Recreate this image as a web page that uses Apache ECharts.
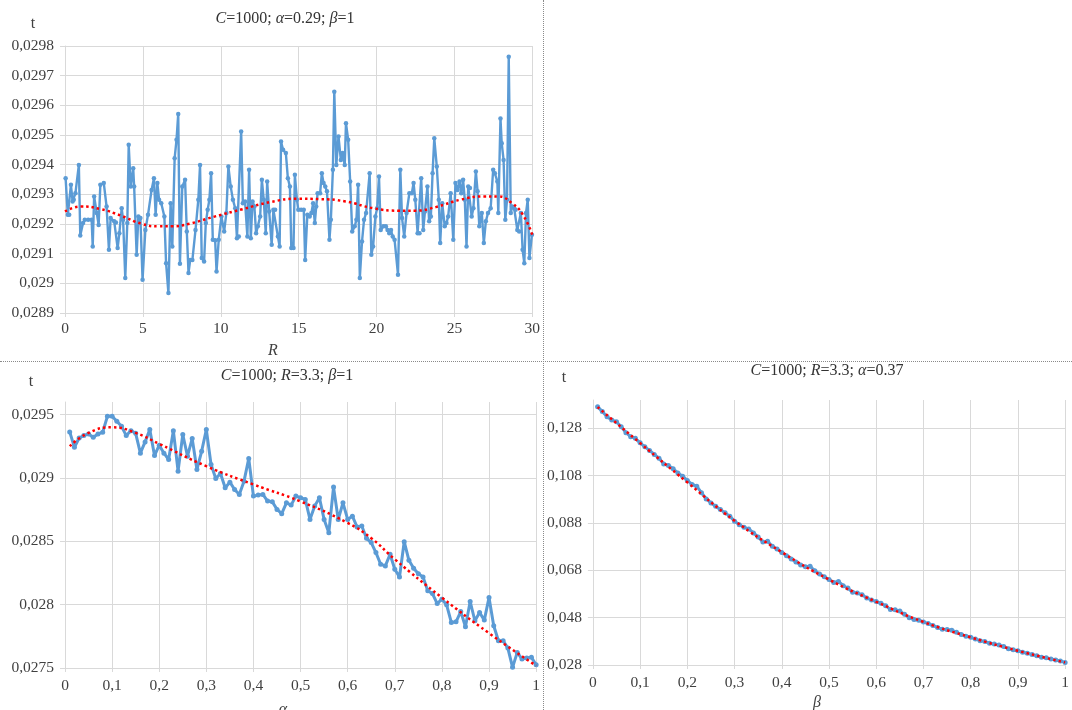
<!DOCTYPE html>
<html><head><meta charset="utf-8">
<script src="https://cdn.jsdelivr.net/npm/echarts@6/dist/echarts.min.js"></script>
<style>
body{margin:0;background:#fff;width:1072px;height:710px;overflow:hidden;position:relative}
.c{position:absolute}
</style></head>
<body>
<div id="a" class="c" style="left:0;top:0;width:543px;height:361px"></div>
<div id="b" class="c" style="left:0;top:362px;width:543px;height:348px"></div>
<div id="cc" class="c" style="left:544px;top:362px;width:528px;height:348px"></div>
<div class="c" style="left:543px;top:0;width:0;height:710px;border-left:1px dotted #8a8a8a"></div>
<div class="c" style="left:0;top:361px;width:1072px;height:0;border-top:1px dotted #8a8a8a"></div>
<script>
// ---- Chart 1: t vs R (C=1000; alpha=0.29; beta=1)
const rX = [0.04,0.18,0.27,0.38,0.49,0.56,0.67,0.89,0.98,1.16,1.27,1.49,1.71,1.78,1.87,2.04,2.16,2.27,2.49,2.67,2.82,2.93,3.16,3.27,3.38,3.49,3.64,3.73,3.87,4.00,4.09,4.22,4.38,4.44,4.60,4.71,4.84,4.98,5.16,5.33,5.56,5.71,5.82,5.93,6.04,6.18,6.38,6.49,6.64,6.78,6.89,7.04,7.16,7.27,7.38,7.53,7.71,7.82,7.93,8.04,8.18,8.38,8.56,8.67,8.78,8.93,9.04,9.16,9.27,9.38,9.49,9.64,9.73,9.87,10.04,10.22,10.36,10.49,10.64,10.78,10.93,11.04,11.16,11.31,11.42,11.56,11.71,11.82,11.93,12.04,12.16,12.27,12.38,12.53,12.64,12.76,12.89,12.98,13.11,13.27,13.38,13.49,13.67,13.78,13.87,14.00,14.18,14.31,14.44,14.53,14.67,14.76,14.89,14.98,15.16,15.33,15.42,15.56,15.71,15.82,15.93,16.04,16.13,16.22,16.38,16.49,16.60,16.71,16.82,16.98,17.07,17.20,17.29,17.42,17.56,17.71,17.82,17.96,18.04,18.18,18.31,18.44,18.60,18.71,18.82,18.93,19.07,19.20,19.33,19.56,19.67,19.78,19.93,20.04,20.16,20.27,20.44,20.60,20.71,20.82,20.93,21.04,21.16,21.38,21.53,21.64,21.78,21.93,22.11,22.27,22.38,22.49,22.64,22.76,22.87,23.00,23.11,23.27,23.38,23.49,23.60,23.71,23.87,24.00,24.09,24.22,24.38,24.49,24.60,24.76,24.93,25.07,25.20,25.33,25.44,25.56,25.67,25.78,25.89,26.00,26.11,26.22,26.38,26.49,26.60,26.76,26.89,27.02,27.16,27.33,27.49,27.60,27.76,27.82,27.96,28.04,28.16,28.27,28.38,28.49,28.62,28.71,28.84,28.93,29.04,29.16,29.27,29.38,29.49,29.60,29.71,29.82,29.98];
const rT = [0.029354,0.029231,0.029231,0.029332,0.029276,0.029282,0.029304,0.029399,0.029161,0.029203,0.029214,0.029214,0.029214,0.029124,0.029293,0.029237,0.029197,0.029332,0.029338,0.029259,0.029113,0.029220,0.029209,0.029205,0.029119,0.029169,0.029253,0.029214,0.029018,0.029203,0.029467,0.029326,0.029388,0.029326,0.029096,0.029225,0.029220,0.029012,0.029180,0.029231,0.029315,0.029354,0.029231,0.029338,0.029282,0.029270,0.029225,0.029068,0.028967,0.029270,0.029124,0.029422,0.029484,0.029571,0.029066,0.029326,0.029349,0.029175,0.029035,0.029079,0.029079,0.029180,0.029282,0.029399,0.029085,0.029074,0.029203,0.029248,0.029282,0.029371,0.029147,0.029145,0.029040,0.029147,0.029225,0.029175,0.029237,0.029394,0.029326,0.029282,0.029253,0.029152,0.029158,0.029512,0.029270,0.029276,0.029158,0.029383,0.029152,0.029276,0.029259,0.029169,0.029192,0.029225,0.029349,0.029282,0.029169,0.029343,0.029242,0.029130,0.029248,0.029248,0.029158,0.029124,0.029478,0.029450,0.029439,0.029354,0.029326,0.029119,0.029119,0.029366,0.029282,0.029248,0.029248,0.029248,0.029079,0.029231,0.029225,0.029237,0.029270,0.029203,0.029259,0.029304,0.029304,0.029371,0.029338,0.029326,0.029310,0.029147,0.029214,0.029383,0.029646,0.029399,0.029495,0.029416,0.029439,0.029399,0.029540,0.029484,0.029343,0.029175,0.029192,0.029214,0.029332,0.029018,0.029141,0.029214,0.029237,0.029371,0.029096,0.029124,0.029225,0.029253,0.029360,0.029180,0.029192,0.029192,0.029180,0.029169,0.029180,0.029158,0.029147,0.029029,0.029383,0.029220,0.029158,0.029237,0.029304,0.029304,0.029338,0.029282,0.029169,0.029169,0.029354,0.029180,0.029242,0.029326,0.029209,0.029225,0.029371,0.029489,0.029394,0.029282,0.029136,0.029270,0.029192,0.029203,0.029225,0.029304,0.029147,0.029338,0.029315,0.029343,0.029304,0.029349,0.029282,0.029124,0.029326,0.029321,0.029225,0.029253,0.029377,0.029310,0.029192,0.029237,0.029136,0.029209,0.029237,0.029253,0.029383,0.029371,0.029343,0.029237,0.029556,0.029472,0.029416,0.029214,0.029282,0.029764,0.029237,0.029259,0.029253,0.029248,0.029180,0.029175,0.029237,0.029113,0.029068,0.029237,0.029282,0.029085,0.029164];
const rTrendX = [0,1,2.3,3.6,4.9,6,6.9,8,9.6,11.4,13.2,14.9,16.3,18,19.8,21.4,22.5,23.8,25.4,26.9,27.8,28.7,29.4,30];
const rTrendT = [0.029242,0.029259,0.029250,0.029228,0.029201,0.029192,0.029192,0.029201,0.029225,0.029250,0.029274,0.029285,0.029284,0.029276,0.029253,0.029245,0.029245,0.029257,0.029282,0.029293,0.029293,0.029270,0.029231,0.029164];

// ---- Chart 2: t vs alpha (C=1000; R=3.3; beta=1)
const aX = [0.01,0.02,0.03,0.04,0.05,0.06,0.07,0.08,0.09,0.10,0.11,0.12,0.13,0.14,0.15,0.16,0.17,0.18,0.19,0.20,0.21,0.22,0.23,0.24,0.25,0.26,0.27,0.28,0.29,0.30,0.31,0.32,0.33,0.34,0.35,0.36,0.37,0.38,0.39,0.40,0.41,0.42,0.43,0.44,0.45,0.46,0.47,0.48,0.49,0.50,0.51,0.52,0.53,0.54,0.55,0.56,0.57,0.58,0.59,0.60,0.61,0.62,0.63,0.64,0.65,0.66,0.67,0.68,0.69,0.70,0.71,0.72,0.73,0.74,0.75,0.76,0.77,0.78,0.79,0.80,0.81,0.82,0.83,0.84,0.85,0.86,0.87,0.88,0.89,0.90,0.91,0.92,0.93,0.94,0.95,0.96,0.97,0.98,0.99,1.00];
const aT = [0.029364,0.029243,0.029316,0.029335,0.029348,0.029322,0.029348,0.029361,0.029487,0.029487,
0.029448,0.029408,0.029335,0.029374,0.029353,0.029196,0.029285,0.029382,0.029177,0.029259,
0.029196,0.029146,0.029374,0.029054,0.029343,0.029172,0.029311,0.029067,0.029211,0.029382,
0.029106,0.028996,0.029035,0.028923,0.028967,0.028909,0.028870,0.028975,0.029154,0.028857,
0.028865,0.028870,0.028818,0.028812,0.028752,0.028718,0.028804,0.028786,0.028857,0.028844,
0.028831,0.028673,0.028778,0.028844,0.028673,0.028568,0.028928,0.028673,0.028804,0.028673,
0.028699,0.028613,0.028621,0.028524,0.028490,0.028411,0.028319,0.028306,0.028398,0.028280,
0.028219,0.028497,0.028350,0.028287,0.028245,0.028219,0.028109,0.028088,0.028009,0.028043,
0.027999,0.027860,0.027865,0.027946,0.027825,0.028025,0.027873,0.027938,0.027878,0.028056,
0.027833,0.027715,0.027715,0.027657,0.027505,0.027623,0.027571,0.027579,0.027584,0.027526];
const aTrendX = [0.01,0.05,0.1,0.15,0.2,0.3,0.4,0.5,0.6,0.65,0.7,0.8,0.9,1.0];
const aTrendT = [0.029251,0.029356,0.029400,0.029356,0.029269,0.029093,0.028949,0.028815,0.028645,0.028525,0.028358,0.028056,0.027775,0.027518];

// ---- Chart 3: t vs beta (C=1000; R=3.3; alpha=0.37)
const bX = aX;
const bT = [0.1372,0.1351,0.1329,0.1315,0.1308,0.1287,0.1262,0.1245,0.1238,0.1219,
0.1202,0.1187,0.1170,0.1154,0.1130,0.1123,0.1109,0.1092,0.1078,0.1060,
0.1043,0.1036,0.1008,0.0982,0.0965,0.0951,0.0937,0.0923,0.0909,0.0888,
0.0873,0.0862,0.0855,0.0838,0.0821,0.0800,0.0803,0.0782,0.0770,0.0756,
0.0742,0.0728,0.0715,0.0703,0.0695,0.0697,0.0678,0.0665,0.0653,0.0641,
0.0629,0.0633,0.0615,0.0605,0.0587,0.0584,0.0577,0.0563,0.0555,0.0548,
0.0541,0.0530,0.0515,0.0513,0.0508,0.0494,0.0480,0.0472,0.0469,0.0462,
0.0455,0.0447,0.0438,0.0431,0.0430,0.0427,0.0418,0.0409,0.0402,0.0397,
0.0390,0.0383,0.0379,0.0372,0.0369,0.0365,0.0358,0.0349,0.0344,0.0340,
0.0334,0.0330,0.0324,0.0319,0.0313,0.0311,0.0305,0.0301,0.0297,0.0291];
const bTrendX = [0.01,0.1,0.2,0.3,0.4,0.5,0.6,0.7,0.8,0.9,1.0];
const bTrendT = [0.1370,0.1218,0.1052,0.0890,0.0757,0.0641,0.0547,0.0462,0.0397,0.0340,0.0291];

const TEXT = '#404040', GRID = '#d9d9d9', BLUE = '#5b9bd5', RED = '#ff0000';
const SERIF = '"Liberation Serif", "Times New Roman", serif';
function fmt(v){ return String(parseFloat(Number(v).toPrecision(6))).replace('.', ','); }
function pairs(xs, ys){ return xs.map((x,i)=>[x, ys[i]]); }

function axisX(min, max, interval, margin){
  return {type:'value', min, max, interval,
    axisLine:{show:true, lineStyle:{color:GRID, width:1}},
    axisTick:{show:true, length:4, lineStyle:{color:GRID}},
    splitLine:{show:true, lineStyle:{color:GRID, width:1}},
    axisLabel:{color:TEXT, fontFamily:SERIF, fontSize:15.5, margin, formatter:fmt, alignMaxLabel:'center', alignMinLabel:'center'}};
}
function axisY(min, max, interval, hideMax){
  return {type:'value', min, max, interval,
    axisLine:{show:true, lineStyle:{color:GRID, width:1}},
    axisTick:{show:true, length:5, lineStyle:{color:GRID}},
    splitLine:{show:true, showMaxLine: !hideMax, lineStyle:{color:GRID, width:1}},
    axisLabel:{color:TEXT, fontFamily:SERIF, fontSize:15.5, margin:11, formatter:fmt, showMaxLabel: !hideMax}};
}
function txt(x, y, text, opts){
  return {type:'text', x, y, silent:true, style:Object.assign({text, fill:TEXT, font:'16px ' + SERIF, textAlign:'center', verticalAlign:'middle'}, opts||{})};
}
function title(x, y, text){
  return txt(x, y, text, {font:'16px ' + SERIF, fill:'#333333',
    rich:{i:{fontStyle:'italic', fontFamily:SERIF, fontSize:16, fill:'#333333'}}});
}
function blue(data, lw, ss){
  return {type:'line', data, showSymbol:true, showAllSymbol:true, symbol:'circle', symbolSize:ss,
    itemStyle:{color:BLUE}, lineStyle:{color:BLUE, width:lw}, z:2, animation:false};
}
function red(data){
  return {type:'line', data, smooth:true, showSymbol:false, symbol:'none',
    lineStyle:{color:RED, width:2.5, type:[2.5,3]}, z:3, animation:false};
}

const cA = echarts.init(document.getElementById('a'), null, {renderer:'canvas'});
cA.setOption({
  animation:false,
  grid:{left:65, right:9, top:46, bottom:48},
  xAxis: axisX(0, 30, 5, 8),
  yAxis: axisY(0.0289, 0.0298, 0.0001, false),
  series:[blue(pairs(rX, rT), 2.4, 4.5), red(pairs(rTrendX, rTrendT))],
  graphic:[
    title(285, 19, '{i|C}=1000; {i|α}=0.29; {i|β}=1'),
    txt(33, 24, 't'),
    txt(273, 351, 'R', {font:'italic 16px ' + SERIF})
  ]
});

const cB = echarts.init(document.getElementById('b'), null, {renderer:'canvas'});
cB.setOption({
  animation:false,
  grid:{left:65, right:6, top:40, bottom:42},
  xAxis: axisX(0, 1, 0.1, 10),
  yAxis: axisY(0.0275, 0.0296, 0.0005, true),
  series:[blue(pairs(aX, aT), 3, 5), red(pairs(aTrendX, aTrendT))],
  graphic:[
    title(287, 14, '{i|C}=1000; {i|R}=3.3; {i|β}=1'),
    txt(31, 20, 't'),
    txt(283, 348, 'α', {font:'italic 16px ' + SERIF})
  ]
});

const cC = echarts.init(document.getElementById('cc'), null, {renderer:'canvas'});
cC.setOption({
  animation:false,
  grid:{left:47, right:0, top:38, bottom:45},
  xAxis: axisX(0, 1, 0.1, 10),
  yAxis: axisY(0.028, 0.14, 0.02, true),
  series:[blue(pairs(bX, bT), 3, 5), red(pairs(bTrendX, bTrendT))],
  graphic:[
    title(283, 9, '{i|C}=1000; {i|R}=3.3; {i|α}=0.37'),
    txt(20, 16, 't'),
    txt(273, 341, 'β', {font:'italic 16px ' + SERIF})
  ]
});
</script>
</body></html>
